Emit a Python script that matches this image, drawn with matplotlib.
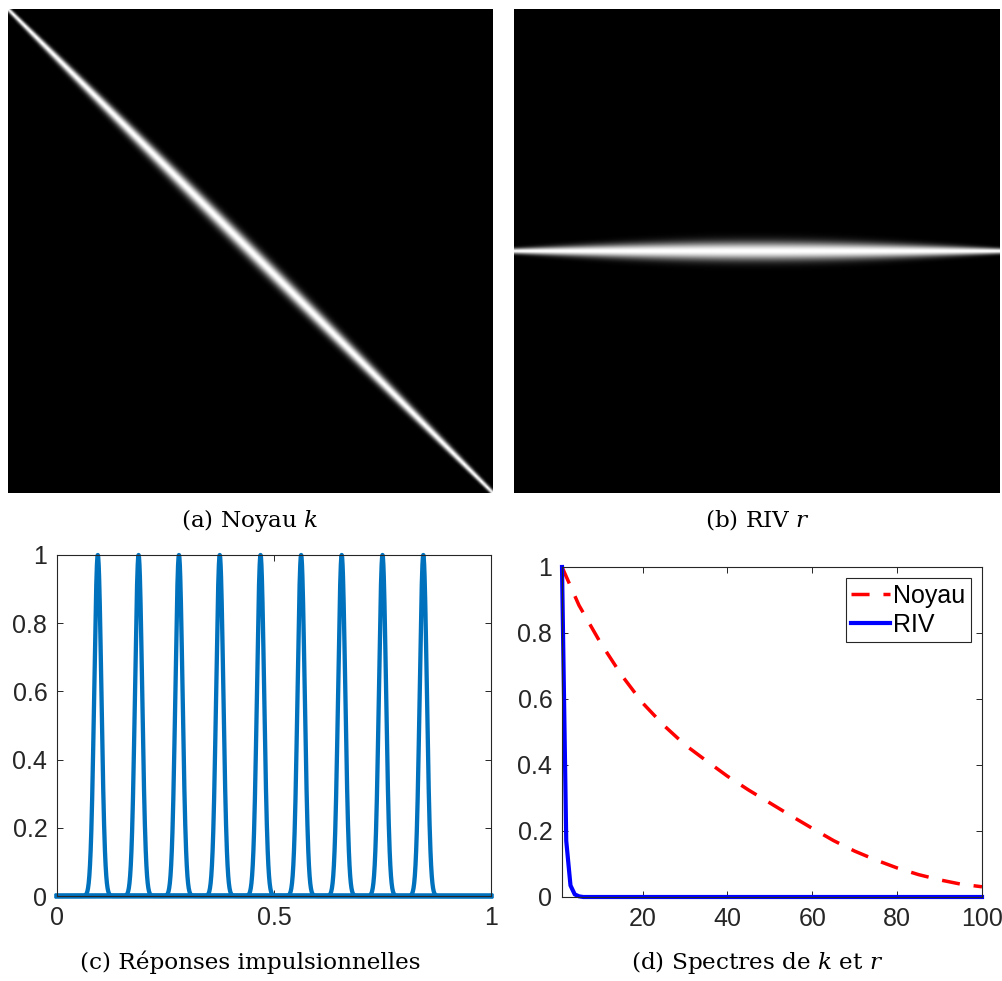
import matplotlib
matplotlib.use('Agg')
import matplotlib.pyplot as plt
import numpy as np

plt.rcParams['font.family'] = 'Liberation Sans'
plt.rcParams['mathtext.fontset'] = 'dejavuserif'

# kernel line width (std, fraction of the side) (a)/(b)
sigma_edge = 0.004
sigma_mid = 0.013
n_pix = 400

# (c) impulse responses: peak centres and width
peak_centres = [0.094, 0.188, 0.281, 0.375, 0.469, 0.5625, 0.656, 0.75, 0.844]
peak_sigma = [0.0082] * 9

# (d) spectra
noyau_x = [1, 5, 10, 15, 20, 25, 30, 35, 40, 45, 50, 55, 60, 65, 70, 75, 80, 85, 90, 95, 100]
noyau_y = [1.0, 0.884, 0.772, 0.673, 0.588, 0.520, 0.461, 0.413, 0.366, 0.324, 0.285,
           0.246, 0.208, 0.171, 0.139, 0.112, 0.088, 0.068, 0.052, 0.039, 0.031]
riv_x = [1, 2, 3, 4, 5, 6, 100]
riv_y = [1.0, 0.17, 0.035, 0.008, 0.002, 0.0, 0.0]

W, H = 1003, 981
fig = plt.figure(figsize=(W / 100, H / 100), dpi=100)

def box(l, t, r, b):
    return [l / W, 1 - b / H, (r - l) / W, (b - t) / H]

# images
s = np.linspace(0, 1, n_pix)
sig = sigma_edge + (sigma_mid - sigma_edge) * np.sin(np.pi * s)
X, Y = np.meshgrid(s, s, indexing='ij')
k_img = np.exp(-(X - Y) ** 2 / (2 * sig[:, None] ** 2))
t = np.linspace(-0.5, 0.5, n_pix)
r_img = np.exp(-t[:, None] ** 2 / (2 * sig[None, :] ** 2))

axa = fig.add_axes(box(8, 9, 493, 493))
axa.imshow(k_img, cmap='gray', vmin=0, vmax=1, aspect='auto', interpolation='bilinear')
axa.axis('off')
axb = fig.add_axes(box(514, 9, 1000, 493))
axb.imshow(r_img, cmap='gray', vmin=0, vmax=1, aspect='auto', interpolation='bilinear')
axb.axis('off')

axcol = '#262626'
def style(ax):
    for sp in ax.spines.values():
        sp.set_color(axcol)
        sp.set_linewidth(0.8)
    ax.tick_params(direction='in', top=True, right=True, length=4, width=0.7,
                   colors=axcol, labelsize=18, pad=7)

def fmt(v):
    return '%g' % v

# (c)
axc = fig.add_axes(box(57, 555, 491, 896))
xc = np.linspace(0, 1, 2001)
for c, sg in zip(peak_centres, peak_sigma):
    axc.plot(xc, np.exp(-(xc - c) ** 2 / (2 * sg ** 2)), color='#0072BD', lw=3.1,
             solid_joinstyle='round', clip_on=False)
axc.set_xlim(0, 1)
axc.set_ylim(0, 1)
xt = [0, 0.5, 1]
yt = [0, 0.2, 0.4, 0.6, 0.8, 1]
axc.set_xticks(xt, [fmt(v) for v in xt])
axc.set_yticks(yt, [fmt(v) for v in yt])
style(axc)

# (d)
axd = fig.add_axes(box(562, 567, 982, 897))
axd.plot(noyau_x, noyau_y, color='red', lw=2.5, dashes=(5.2, 4.0), label='Noyau')
axd.plot(riv_x, riv_y, color='blue', lw=3.0, label='RIV', clip_on=False)
axd.set_xlim(1, 100)
axd.set_ylim(0, 1)
xt = [20, 40, 60, 80, 100]
axd.set_xticks(xt, [fmt(v) for v in xt])
axd.set_yticks(yt, [fmt(v) for v in yt])
style(axd)
leg = axd.legend(loc='upper right', fontsize=18, fancybox=False, framealpha=1,
                 edgecolor=axcol, borderpad=0.22, labelspacing=0.2, handlelength=1.56,
                 handletextpad=0.12, borderaxespad=0.44)
leg.get_frame().set_linewidth(0.8)

# captions
cap = dict(ha='center', va='center', family='DejaVu Serif', fontsize=16.7, color='black')
fig.text(250 / W, 1 - 520 / H, '(a) Noyau $k$', **cap)
fig.text(757 / W, 1 - 520 / H, '(b) RIV $r$', **cap)
fig.text(250 / W, 1 - 962 / H, '(c) Réponses impulsionnelles', **cap)
fig.text(757 / W, 1 - 962 / H, '(d) Spectres de $k$ et $r$', **cap)

fig.savefig('out.png', dpi=100)
